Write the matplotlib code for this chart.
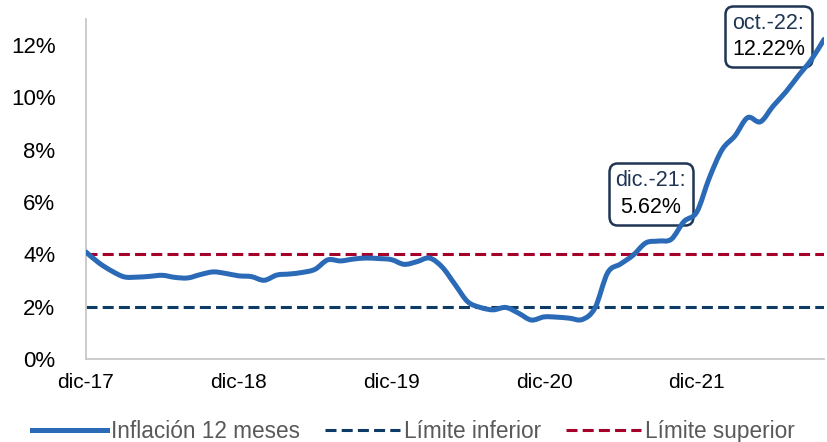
import matplotlib
matplotlib.use("Agg")
import matplotlib.pyplot as plt
from matplotlib.offsetbox import TextArea, VPacker, AnnotationBbox
from matplotlib.path import Path
from matplotlib.patches import PathPatch
from matplotlib.lines import Line2D

plt.rcParams['font.family'] = ['Liberation Sans', 'DejaVu Sans']

months = ["dic-17",
          "ene-18", "feb-18", "mar-18", "abr-18", "may-18", "jun-18", "jul-18", "ago-18", "sep-18", "oct-18", "nov-18", "dic-18",
          "ene-19", "feb-19", "mar-19", "abr-19", "may-19", "jun-19", "jul-19", "ago-19", "sep-19", "oct-19", "nov-19", "dic-19",
          "ene-20", "feb-20", "mar-20", "abr-20", "may-20", "jun-20", "jul-20", "ago-20", "sep-20", "oct-20", "nov-20", "dic-20",
          "ene-21", "feb-21", "mar-21", "abr-21", "may-21", "jun-21", "jul-21", "ago-21", "sep-21", "oct-21", "nov-21", "dic-21",
          "ene-22", "feb-22", "mar-22", "abr-22", "may-22", "jun-22", "jul-22", "ago-22", "sep-22", "oct-22"]
inflation = [4.09,
             3.68, 3.37, 3.14, 3.13, 3.16, 3.20, 3.12, 3.10, 3.23, 3.33, 3.27, 3.18,
             3.15, 3.01, 3.21, 3.25, 3.31, 3.43, 3.79, 3.75, 3.82, 3.86, 3.84, 3.80,
             3.62, 3.72, 3.86, 3.51, 2.85, 2.19, 1.97, 1.88, 1.97, 1.75, 1.49, 1.61,
             1.60, 1.56, 1.51, 1.95, 3.30, 3.63, 3.97, 4.44, 4.51, 4.58, 5.26, 5.62,
             6.94, 8.01, 8.53, 9.23, 9.07, 9.67, 10.21, 10.84, 11.44, 12.22]
lower_limit = [2.0] * len(months)
upper_limit = [4.0] * len(months)
tick_labels = ["dic-17", "dic-18", "dic-19", "dic-20", "dic-21"]
y_ticks = [0, 2, 4, 6, 8, 10, 12]
annotations = [("dic.-21:", "dic-21", "5.62%"), ("oct.-22:", "oct-22", "12.22%")]

blue = "#2A6AB6"
navy = "#0E3A66"
red = "#A5002A"
box_ec = "#1F3553"

fig = plt.figure(figsize=(8.27, 4.42), dpi=100)
ax = fig.add_axes([86/827, 83/442, (824-86)/827, (359-19)/442])

x = list(range(len(months)))
# smoothed line (Excel-style smoothing) drawn as Bezier path through the data points
n = len(x)
verts = [(x[0], inflation[0])]
codes = [Path.MOVETO]
for i in range(n - 1):
    p0 = (x[max(i - 1, 0)], inflation[max(i - 1, 0)])
    p1 = (x[i], inflation[i])
    p2 = (x[i + 1], inflation[i + 1])
    p3 = (x[min(i + 2, n - 1)], inflation[min(i + 2, n - 1)])
    c1 = (p1[0] + (p2[0] - p0[0]) / 6, p1[1] + (p2[1] - p0[1]) / 6)
    c2 = (p2[0] - (p3[0] - p1[0]) / 6, p2[1] - (p3[1] - p1[1]) / 6)
    verts += [c1, c2, p2]
    codes += [Path.CURVE4] * 3
ax.add_patch(PathPatch(Path(verts, codes), fill=False, ec=blue, lw=3.6,
                       capstyle='round', joinstyle='round', zorder=3))

ax.plot(x, lower_limit, color=navy, lw=2.2, dashes=(3.6, 1.7), zorder=2)
ax.plot(x, upper_limit, color=red, lw=2.2, dashes=(3.6, 1.7), zorder=2)

ax.set_xlim(0, len(months) - 1)
ax.set_ylim(0, 13)
ax.set_yticks(y_ticks)
ax.set_yticklabels([f"{v}%" for v in y_ticks], fontsize=16)
ax.set_xticks([months.index(t) for t in tick_labels])
ax.set_xticklabels(tick_labels, fontsize=15)
ax.tick_params(axis='y', length=0, pad=22)
ax.tick_params(axis='x', length=0, pad=10)
for s in ['top', 'right']:
    ax.spines[s].set_visible(False)
for s in ['left', 'bottom']:
    ax.spines[s].set_color('#C8C8C8')
    ax.spines[s].set_linewidth(1.3)

offsets = {"dic-21": (-33, 13), "oct-22": (-40, 2)}
for head, m, val in annotations:
    i = months.index(m)
    t1 = TextArea(head, textprops=dict(color=box_ec, fontsize=15.5))
    t2 = TextArea(val, textprops=dict(color='black', fontsize=15.5))
    vp = VPacker(children=[t1, t2], align='center', pad=0, sep=4)
    ab = AnnotationBbox(vp, (i, inflation[i]), xybox=offsets[m], xycoords='data',
                        boxcoords='offset points', frameon=True, pad=0.5,
                        bboxprops=dict(boxstyle='round,pad=0.5,rounding_size=0.6',
                                       ec=box_ec, lw=1.8, fc='none'), zorder=2)
    ax.add_artist(ab)

handles = [Line2D([], [], color=blue, lw=3.6),
           Line2D([], [], color=navy, lw=2.2, dashes=(3.6, 1.7)),
           Line2D([], [], color=red, lw=2.2, dashes=(3.6, 1.7))]
labels = ["Inflación 12 meses", "Límite inferior", "Límite superior"]
leg = fig.legend(handles, labels, loc='lower center', bbox_to_anchor=(0.5, -0.048), ncol=3,
                 frameon=False, fontsize=16.3, handlelength=3.3, columnspacing=1.1,
                 handletextpad=0.2)
for t in leg.get_texts():
    t.set_color('#595959')

fig.savefig("out.png", dpi=100)
